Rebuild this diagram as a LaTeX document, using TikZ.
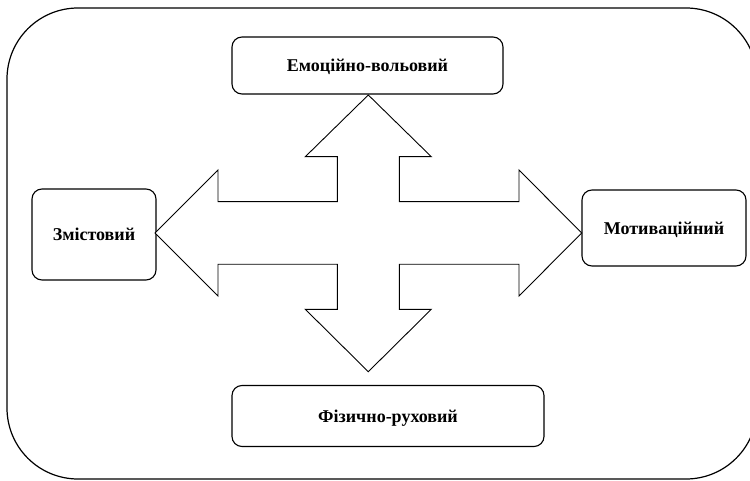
\documentclass[tikz,border=0pt]{standalone}
\usepackage{fontspec}
\setmainfont{Liberation Serif}
\usetikzlibrary{calc}
\begin{document}
\begin{tikzpicture}[x=1pt,y=-1pt,
  box/.style={draw, line width=1.1pt, rounded corners=10pt, inner sep=0pt, text depth=0pt,
    font=\fontsize{18}{21}\selectfont\bfseries},
  crossarrow/.style={draw, line width=0.9pt, fill=white, line join=miter}]
\useasboundingbox (0,0) rectangle (750,481);
\clip (0,0) rectangle (750,481);
% outer frame
\draw[line width=1.2pt, rounded corners=71pt] (7,8) rectangle (757,479);
% boxes
\node[box, minimum width=271pt, minimum height=57pt] (top) at (367.5,65.5) {Емоційно-вольовий};
\node[box, minimum width=124pt, minimum height=91pt] (left) at (94,234.5) {Змістовий};
\node[box, minimum width=164pt, minimum height=76pt] (right) at (664,228) {Мотиваційний};
\node[box, minimum width=312pt, minimum height=61pt] (bottom) at (388,416) {Фізично-руховий};
% cross arrow
\coordinate (c) at (368.3,233);
\draw[crossarrow]
  ($(c)+(0,-138)$) -- ($(c)+(63,-76.3)$) -- ($(c)+(31,-76.3)$) -- ($(c)+(31,-31.3)$)
  -- ($(c)+(150.7,-31.3)$) -- ($(c)+(150.7,-63)$) -- ($(c)+(213.4,0)$)
  -- ($(c)+(150.7,63)$) -- ($(c)+(150.7,31.3)$) -- ($(c)+(31,31.3)$)
  -- ($(c)+(31,76.3)$) -- ($(c)+(63,76.3)$) -- ($(c)+(0,138.7)$)
  -- ($(c)+(-63,76.3)$) -- ($(c)+(-31,76.3)$) -- ($(c)+(-31,31.3)$)
  -- ($(c)+(-150.3,31.3)$) -- ($(c)+(-150.3,63)$) -- ($(c)+(-213.3,0)$)
  -- ($(c)+(-150.3,-63)$) -- ($(c)+(-150.3,-31.3)$) -- ($(c)+(-31,-31.3)$)
  -- ($(c)+(-31,-76.3)$) -- ($(c)+(-63,-76.3)$) -- cycle;
\end{tikzpicture}
\end{document}
